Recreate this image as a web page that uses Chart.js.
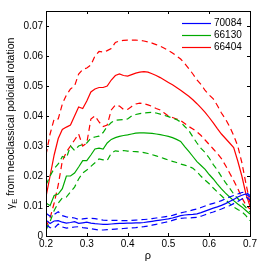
<!DOCTYPE html>
<html>
<head>
<meta charset="utf-8">
<script src="https://cdn.jsdelivr.net/npm/chart.js@4/dist/chart.umd.min.js"></script>
<style>
  body { margin: 0; background: #fff; }
  #wrap { width: 261px; height: 267px; position: relative; }
</style>
</head>
<body>
<div id="wrap"><canvas id="chart"></canvas></div>
<script>
// normalised radius
const rho = [0.20, 0.21, 0.22, 0.23, 0.24, 0.25, 0.26, 0.27, 0.28, 0.29,
             0.30, 0.31, 0.32, 0.33, 0.34, 0.35, 0.36, 0.37, 0.38, 0.39,
             0.40, 0.41, 0.42, 0.43, 0.44, 0.45, 0.46, 0.47, 0.48, 0.49,
             0.50, 0.51, 0.52, 0.53, 0.54, 0.55, 0.56, 0.57, 0.58, 0.59,
             0.60, 0.61, 0.62, 0.63, 0.64, 0.65, 0.66, 0.67, 0.68, 0.69, 0.70];

// shot 70084
const s70084 = [0.0053, 0.0042, 0.0050, 0.0051, 0.0046, 0.0043, 0.0045, 0.0048, 0.0042, 0.0044,
                0.0046, 0.0043, 0.0041, 0.0040, 0.0039, 0.0039, 0.0040, 0.0041, 0.0042, 0.0042,
                0.0043, 0.0043, 0.0044, 0.0044, 0.0045, 0.0047, 0.0049, 0.0051, 0.0053, 0.0055,
                0.0057, 0.0060, 0.0064, 0.0068, 0.0070, 0.0071, 0.0072, 0.0074, 0.0078, 0.0083,
                0.0088, 0.0093, 0.0097, 0.0102, 0.0108, 0.0115, 0.0122, 0.0130, 0.0136, 0.0140, 0.0130];
const s70084hi = [0.0076, 0.0066, 0.0072, 0.0081, 0.0068, 0.0064, 0.0062, 0.0060, 0.0055, 0.0057,
                  0.0059, 0.0059, 0.0058, 0.0055, 0.0053, 0.0052, 0.0052, 0.0052, 0.0052, 0.0051,
                  0.0051, 0.0052, 0.0053, 0.0054, 0.0055, 0.0056, 0.0058, 0.0060, 0.0062, 0.0064,
                  0.0066, 0.0069, 0.0073, 0.0077, 0.0080, 0.0083, 0.0087, 0.0090, 0.0095, 0.0100,
                  0.0105, 0.0109, 0.0113, 0.0118, 0.0124, 0.0130, 0.0135, 0.0140, 0.0145, 0.0146, 0.0135];
const s70084lo = [0.0037, 0.0028, 0.0026, 0.0040, 0.0030, 0.0026, 0.0028, 0.0030, 0.0031, 0.0028,
                  0.0026, 0.0024, 0.0022, 0.0020, 0.0020, 0.0021, 0.0022, 0.0023, 0.0024, 0.0025,
                  0.0026, 0.0027, 0.0028, 0.0030, 0.0031, 0.0033, 0.0036, 0.0039, 0.0042, 0.0045,
                  0.0048, 0.0052, 0.0056, 0.0059, 0.0060, 0.0060, 0.0061, 0.0062, 0.0066, 0.0071,
                  0.0076, 0.0080, 0.0085, 0.0090, 0.0096, 0.0101, 0.0108, 0.0115, 0.0123, 0.0130, 0.0120];

// shot 66130
const s66130 = [0.0110, 0.0101, 0.0135, 0.0140, 0.0158, 0.0200, 0.0200, 0.0210, 0.0230, 0.0251,
                0.0251, 0.0270, 0.0290, 0.0293, 0.0290, 0.0310, 0.0322, 0.0328, 0.0332, 0.0335,
                0.0337, 0.0340, 0.0343, 0.0344, 0.0344, 0.0343, 0.0342, 0.0340, 0.0338, 0.0335,
                0.0332, 0.0328, 0.0322, 0.0315, 0.0298, 0.0282, 0.0265, 0.0248, 0.0235, 0.0222,
                0.0205, 0.0190, 0.0173, 0.0157, 0.0143, 0.0130, 0.0118, 0.0107, 0.0097, 0.0085, 0.0073];
const s66130hi = [0.0170, 0.0200, 0.0225, 0.0240, 0.0265, 0.0260, 0.0300, 0.0285, 0.0300, 0.0305,
                  0.0310, 0.0326, 0.0330, 0.0333, 0.0345, 0.0365, 0.0378, 0.0386, 0.0387, 0.0388,
                  0.0390, 0.0400, 0.0405, 0.0408, 0.0410, 0.0411, 0.0412, 0.0410, 0.0406, 0.0402,
                  0.0398, 0.0393, 0.0388, 0.0380, 0.0365, 0.0352, 0.0330, 0.0310, 0.0292, 0.0278,
                  0.0260, 0.0238, 0.0220, 0.0198, 0.0178, 0.0160, 0.0140, 0.0125, 0.0110, 0.0095, 0.0080];
const s66130lo = [0.0020, 0.0048, 0.0085, 0.0110, 0.0127, 0.0130, 0.0147, 0.0163, 0.0190, 0.0210,
                  0.0220, 0.0232, 0.0244, 0.0257, 0.0254, 0.0252, 0.0276, 0.0284, 0.0282, 0.0285,
                  0.0283, 0.0282, 0.0281, 0.0280, 0.0278, 0.0275, 0.0271, 0.0267, 0.0263, 0.0258,
                  0.0253, 0.0249, 0.0245, 0.0240, 0.0236, 0.0232, 0.0226, 0.0214, 0.0199, 0.0186,
                  0.0174, 0.0160, 0.0147, 0.0134, 0.0121, 0.0108, 0.0097, 0.0088, 0.0081, 0.0068, 0.0051];

// shot 66404
const s66404 = [0.0130, 0.0200, 0.0270, 0.0325, 0.0355, 0.0363, 0.0370, 0.0400, 0.0430, 0.0425,
                0.0450, 0.0480, 0.0490, 0.0495, 0.0495, 0.0500, 0.0520, 0.0535, 0.0540, 0.0535,
                0.0533, 0.0538, 0.0543, 0.0546, 0.0548, 0.0546, 0.0541, 0.0535, 0.0528, 0.0520,
                0.0512, 0.0504, 0.0495, 0.0486, 0.0476, 0.0466, 0.0454, 0.0441, 0.0427, 0.0412,
                0.0395, 0.0377, 0.0358, 0.0340, 0.0325, 0.0310, 0.0295, 0.0250, 0.0200, 0.0140, 0.0100];
const s66404hi = [0.0270, 0.0340, 0.0390, 0.0390, 0.0440, 0.0470, 0.0490, 0.0500, 0.0540, 0.0555,
                  0.0560, 0.0570, 0.0600, 0.0615, 0.0613, 0.0618, 0.0625, 0.0645, 0.0650, 0.0652,
                  0.0653, 0.0653, 0.0653, 0.0652, 0.0650, 0.0647, 0.0643, 0.0638, 0.0633, 0.0626,
                  0.0618, 0.0610, 0.0600, 0.0590, 0.0575, 0.0558, 0.0540, 0.0520, 0.0505, 0.0485,
                  0.0470, 0.0457, 0.0435, 0.0410, 0.0390, 0.0365, 0.0335, 0.0300, 0.0245, 0.0175, 0.0110];
const s66404lo = [0.0030, 0.0060, 0.0110, 0.0170, 0.0250, 0.0280, 0.0300, 0.0320, 0.0340, 0.0300,
                  0.0310, 0.0390, 0.0400, 0.0380, 0.0365, 0.0370, 0.0420, 0.0437, 0.0433, 0.0422,
                  0.0422, 0.0432, 0.0440, 0.0443, 0.0441, 0.0437, 0.0432, 0.0425, 0.0420, 0.0410,
                  0.0400, 0.0395, 0.0390, 0.0385, 0.0375, 0.0365, 0.0357, 0.0347, 0.0335, 0.0320,
                  0.0305, 0.0290, 0.0275, 0.0258, 0.0235, 0.0210, 0.0185, 0.0158, 0.0128, 0.0103, 0.0090];

const xTicks = [0.2, 0.3, 0.4, 0.5, 0.6, 0.7];
const yTicks = [0, 0.01, 0.02, 0.03, 0.04, 0.05, 0.06, 0.07];

const BLUE = 'rgb(0,0,255)';
const GREEN = 'rgb(0,170,0)';
const RED = 'rgb(255,0,0)';

function series(label, vals, color, dashed) {
    return {
        label: label,
        data: rho.map((r, i) => ({ x: r, y: vals[i] })),
        borderColor: color,
        backgroundColor: color,
        borderWidth: 1.2,
        borderDash: dashed ? [6, 4] : [],
        pointRadius: 0,
        fill: false,
        tension: 0,
        inLegend: !dashed
    };
}

const datasets = [
    series('70084', s70084, BLUE, false),
    series('70084 hi', s70084hi, BLUE, true),
    series('70084 lo', s70084lo, BLUE, true),
    series('66130', s66130, GREEN, false),
    series('66130 hi', s66130hi, GREEN, true),
    series('66130 lo', s66130lo, GREEN, true),
    series('66404', s66404, RED, false),
    series('66404 hi', s66404hi, RED, true),
    series('66404 lo', s66404lo, RED, true)
];

// box, inward ticks, y title with subscript, legend inside the axes
const decorations = {
    id: 'decorations',
    afterDraw(chart) {
        const ctx = chart.ctx;
        const a = chart.chartArea;
        const xs = chart.scales.x, ys = chart.scales.y;
        ctx.save();
        ctx.strokeStyle = '#000';
        ctx.lineWidth = 1;
        ctx.setLineDash([]);
        ctx.strokeRect(Math.round(a.left) + 0.5, Math.round(a.top) + 0.5,
                       Math.round(a.right - a.left), Math.round(a.bottom - a.top));
        ctx.beginPath();
        xTicks.forEach(v => {
            const px = Math.round(xs.getPixelForValue(v)) + 0.5;
            ctx.moveTo(px, a.bottom); ctx.lineTo(px, a.bottom - 3);
            ctx.moveTo(px, a.top); ctx.lineTo(px, a.top + 3);
        });
        yTicks.forEach(v => {
            const py = Math.round(ys.getPixelForValue(v)) + 0.5;
            ctx.moveTo(a.left, py); ctx.lineTo(a.left + 3, py);
            ctx.moveTo(a.right, py); ctx.lineTo(a.right - 3, py);
        });
        ctx.stroke();

        // y axis title
        const f1 = '10.5px "Liberation Sans", Arial, sans-serif';
        const f2 = '8px "Liberation Sans", Arial, sans-serif';
        const rest = ' from neoclassical poloidal rotation';
        ctx.font = f1;
        const wG = ctx.measureText('\u03b3').width;
        const wR = ctx.measureText(rest).width;
        ctx.font = f2;
        const wE = ctx.measureText('E').width;
        const total = wG + wE + wR;
        ctx.translate(11, (a.top + a.bottom) / 2);
        ctx.rotate(-Math.PI / 2);
        ctx.fillStyle = '#000';
        ctx.textBaseline = 'middle';
        ctx.textAlign = 'left';
        let x0 = -total / 2;
        ctx.font = f1;
        ctx.fillText('\u03b3', x0, 0);
        ctx.font = f2;
        ctx.fillText('E', x0 + wG, 4);
        ctx.font = f1;
        ctx.fillText(rest, x0 + wG + wE, 0);
        ctx.restore();

        // legend
        ctx.save();
        ctx.font = '10px "Liberation Sans", Arial, sans-serif';
        ctx.textBaseline = 'middle';
        ctx.fillStyle = '#000';
        let row = 0;
        chart.data.datasets.forEach(ds => {
            if (!ds.inLegend) return;
            const y = Math.round(a.top + 12 + row * 12) + 0.5;
            ctx.strokeStyle = ds.borderColor;
            ctx.lineWidth = 1.2;
            ctx.beginPath();
            ctx.moveTo(a.right - 68, y);
            ctx.lineTo(a.right - 39, y);
            ctx.stroke();
            ctx.fillText(ds.label, a.right - 36, y);
            row++;
        });
        ctx.restore();
    }
};

new Chart(document.getElementById('chart'), {
    type: 'line',
    data: { datasets: datasets },
    options: {
        responsive: true,
        maintainAspectRatio: false,
        animation: false,
        layout: { padding: { top: 11, right: 11, left: 0, bottom: 0 } },
        plugins: {
            legend: { display: false },
            tooltip: { enabled: false }
        },
        scales: {
            x: {
                type: 'linear',
                min: 0.2,
                max: 0.7,
                afterFit: s => { s.height = 31; },
                afterBuildTicks: s => { s.ticks = xTicks.map(v => ({ value: v })); },
                grid: { display: false, drawTicks: false },
                border: { display: false },
                ticks: {
                    padding: 2,
                    color: '#000',
                    font: { family: '"Liberation Sans", Arial, sans-serif', size: 10 },
                    callback: v => String(+v.toFixed(2))
                },
                title: {
                    display: true,
                    text: '\u03c1',
                    color: '#000',
                    font: { family: '"Liberation Sans", Arial, sans-serif', size: 11 },
                    padding: { top: 0, bottom: 4 }
                }
            },
            y: {
                type: 'linear',
                min: 0,
                max: 0.075,
                afterFit: s => { s.width = 46; },
                afterBuildTicks: s => { s.ticks = yTicks.map(v => ({ value: v })); },
                grid: { display: false, drawTicks: false },
                border: { display: false },
                ticks: {
                    padding: 3,
                    color: '#000',
                    font: { family: '"Liberation Sans", Arial, sans-serif', size: 10 },
                    callback: v => String(+v.toFixed(2))
                }
            }
        }
    },
    plugins: [decorations]
});
</script>
</body>
</html>
